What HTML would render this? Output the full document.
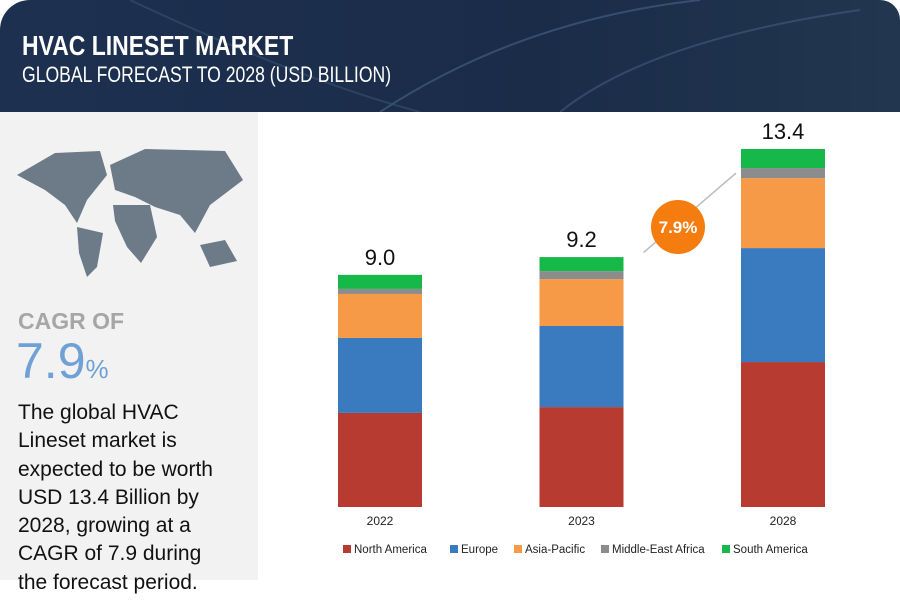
<!DOCTYPE html>
<html><head><meta charset="utf-8"><style>
body{margin:0;width:900px;height:600px;overflow:hidden;background:#fff;font-family:"Liberation Sans",sans-serif;position:relative}
#hdr{position:absolute;left:0;top:0;width:900px;height:112px;background:linear-gradient(90deg,#1d3050,#1a2c48 60%,#22364f);border-top-left-radius:30px;border-top-right-radius:20px;overflow:hidden}
.t1{position:absolute;left:22px;top:30px;color:#fff;font-weight:bold;font-size:28px;transform:scaleX(.82);transform-origin:left;white-space:nowrap}
.t2{position:absolute;left:22px;top:62px;color:#fff;font-size:22px;transform:scaleX(.8);transform-origin:left;white-space:nowrap}
#left{position:absolute;left:0;top:112px;width:258px;height:468px;background:#f2f2f2}
.cagr{position:absolute;left:18px;top:308px;font-size:23px;font-weight:bold;color:#a6a6a6}
.big{position:absolute;left:16px;top:332px;font-size:50px;color:#6fa0d6}
.big span{font-size:26px}
.body{position:absolute;left:18px;top:399px;font-size:21px;line-height:28.3px;color:#111;white-space:nowrap}
</style></head><body>
<div id="hdr">
<svg width="900" height="112" style="position:absolute;left:0;top:0"><path d="M380 112 Q520 20 700 0" stroke="#4a6584" fill="none" stroke-width="2" opacity=".6"/><path d="M560 112 Q650 40 860 10" stroke="#4a6584" fill="none" stroke-width="2" opacity=".5"/><path d="M130 0 Q300 80 420 112" stroke="#3d5878" fill="none" stroke-width="2" opacity=".5"/></svg>
<div class="t1">HVAC LINESET MARKET</div>
<div class="t2">GLOBAL FORECAST TO 2028 (USD BILLION)</div>
</div>
<div id="left"></div>
<svg style="position:absolute;left:15px;top:145px" width="230" height="135">
<path d="M2 30 L40 8 L85 6 L92 30 L72 55 L62 78 L50 60 L30 45 Z" fill="#6d7a88"/>
<path d="M62 82 L88 88 L82 122 L72 132 L64 108 Z" fill="#6d7a88"/>
<path d="M95 20 L130 4 L210 6 L228 35 L195 60 L180 88 L165 70 L140 62 L120 52 L100 45 Z" fill="#6d7a88"/>
<path d="M98 60 L135 60 L142 92 L126 118 L112 102 L100 76 Z" fill="#6d7a88"/>
<path d="M185 100 L210 95 L222 116 L195 122 Z" fill="#6d7a88"/>
</svg>
<div class="cagr">CAGR OF</div>
<div class="big">7.9<span>%</span></div>
<div class="body">The global HVAC<br>Lineset market is<br>expected to be worth<br>USD 13.4 Billion by<br>2028, growing at a<br>CAGR of 7.9 during<br>the forecast period.</div>
<svg id="chart" width="900" height="600" style="position:absolute;left:0;top:0"></svg>
<script>
const years=["2022","2023","2028"];
const totals=["9.0","9.2","13.4"];
const series=["North America","Europe","Asia-Pacific","Middle-East Africa","South America"];
const colors=["#b83b32","#3a7abf","#f79a47","#8c8c8c","#16b84a"];
const northAmerica=[3.55,3.77,5.47];
const europe=[2.83,3.06,4.30];
const asiaPacific=[1.66,1.77,2.64];
const middleEastAfrica=[0.19,0.30,0.38];
const southAmerica=[0.53,0.53,0.72];
const vals=[northAmerica,europe,asiaPacific,middleEastAfrica,southAmerica];
const NS="http://www.w3.org/2000/svg",svg=document.getElementById('chart');
const base=507,scale=26.5,x0=338,step=201.5,bw=84;
const xOf=i=>x0+i*step, yOf=v=>base-v*scale;
function mk(t,a){const e=document.createElementNS(NS,t);for(const k in a)e.setAttribute(k,a[k]);svg.appendChild(e);return e;}
const ar=mk('line',{x1:xOf(1)+bw+20,y1:yOf(9.6),x2:xOf(2)-5,y2:yOf(12.6),stroke:'#bbb','stroke-width':1.5});


mk('circle',{cx:678,cy:227,r:27,fill:'#f57c0f'});
const ct=mk('text',{x:678,y:233,'text-anchor':'middle',fill:'#fff','font-size':17,'font-weight':'bold'});ct.textContent='7.9%';


years.forEach((y,i)=>{let acc=0;
 vals.forEach((s,j)=>{const v=s[i];
  const r=mk('rect',{x:xOf(i),y:yOf(acc+v),width:bw,height:v*scale,fill:colors[j]});
  
  
  acc+=v;});
 const t=mk('text',{x:xOf(i)+bw/2,y:yOf(acc)-10,'text-anchor':'middle','font-size':22,fill:'#111'});t.textContent=totals[i];
 
 
 const l=mk('text',{x:xOf(i)+bw/2,y:525,'text-anchor':'middle','font-size':12,fill:'#222'});l.textContent=y;
 
 
});
const lx=[343,450,514,601,722];
series.forEach((s,j)=>{
 const r=mk('rect',{x:lx[j],y:545,width:8,height:8,fill:colors[j]});
 
 
 const t=mk('text',{x:lx[j]+11,y:553,'font-size':11.5,fill:'#222'});t.textContent=s;
 
 
});
</script>
</body></html>
